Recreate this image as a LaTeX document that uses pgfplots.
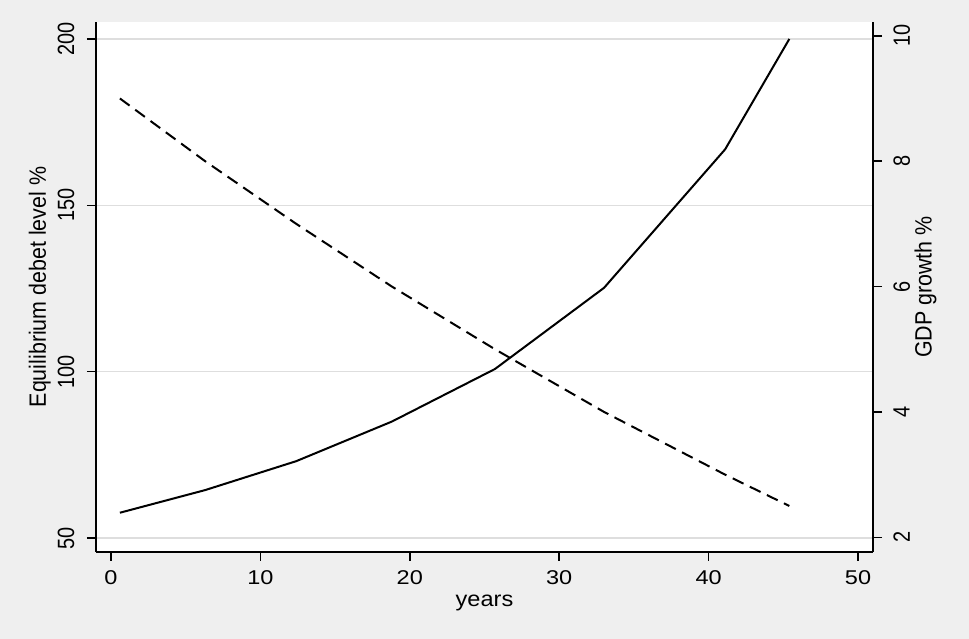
\documentclass[border=0pt]{standalone}
\usepackage{fontspec}
\setmainfont{Liberation Sans}
\usepackage{pgfplots}
\pgfplotsset{compat=1.18}
\definecolor{bggray}{RGB}{239,239,239}
\definecolor{gridgray}{RGB}{222,222,222}

\pgfplotsset{
  twin/.style={
    scale only axis, width=777bp, height=530bp,
    at={(96bp,87bp)}, anchor=south west,
    xmin=-1, xmax=51,
    axis line style={-, line width=1.5bp},
    tick align=outside, major tick length=9bp,
    every tick/.style={black, line width=1.5bp},
    tick label style={font=\fontsize{20}{20}\selectfont},
    label style={font=\fontsize{21.5}{21.5}\selectfont},
    /pgf/number format/assume math mode=true,
  }
}

\begin{document}
\begin{tikzpicture}[x=1bp,y=1bp]
\fill[bggray] (0,0) rectangle (969,639);

% left axis: equilibrium debt level
\begin{axis}[twin,
  axis x line*=bottom, axis y line*=left,
  ymin=45.8, ymax=205.1,
  xtick={0,10,...,50}, ytick={50,100,150,200},
  xticklabel={\scalebox{1.18}[1]{\pgfmathprintnumber{\tick}}},
  yticklabel={\scalebox{1}[1.18]{\pgfmathprintnumber{\tick}}},
  ymajorgrids, grid style={gridgray, line width=1.4bp},
  axis background/.style={fill=white},
  xticklabel style={yshift=-6bp},
  yticklabel style={xshift=-9bp, rotate=90, anchor=south},
  xlabel={\scalebox{1.1}[1]{years}},
  ylabel={\scalebox{1}[1.1]{Equilibrium debet level \%}},
  xlabel style={at={(axis description cs:0.5,-0.103)}, anchor=base},
  ylabel style={at={(axis description cs:-0.0644,0.5)}, anchor=base},
]
\addplot[black, line width=2bp, mark=none] coordinates {
  (0.6,57.6) (6.3,64.4) (12.4,73.1) (18.8,85.0)
  (25.7,100.8) (33.0,125.2) (41.1,166.8) (45.4,200)
};
\end{axis}

% right axis: GDP growth
\begin{axis}[twin,
  axis x line=none, axis y line*=right,
  ymin=1.766, ymax=10.22,
  ytick={2,4,6,8,10},
  yticklabel={\scalebox{1}[1.18]{\pgfmathprintnumber{\tick}}},
  yticklabel style={xshift=8bp, rotate=90, anchor=north},
  ylabel={\scalebox{1}[1.1]{GDP growth \%}},
  ylabel style={at={(axis description cs:1.0755,0.5)}, anchor=base},
]
\addplot[black, line width=2bp, mark=none, dash pattern=on 12bp off 7bp] coordinates {
  (0.6,9) (6.3,8) (12.4,7) (18.8,6)
  (25.7,5) (33.0,4) (41.1,3) (45.4,2.5)
};
\end{axis}
\end{tikzpicture}
\end{document}
